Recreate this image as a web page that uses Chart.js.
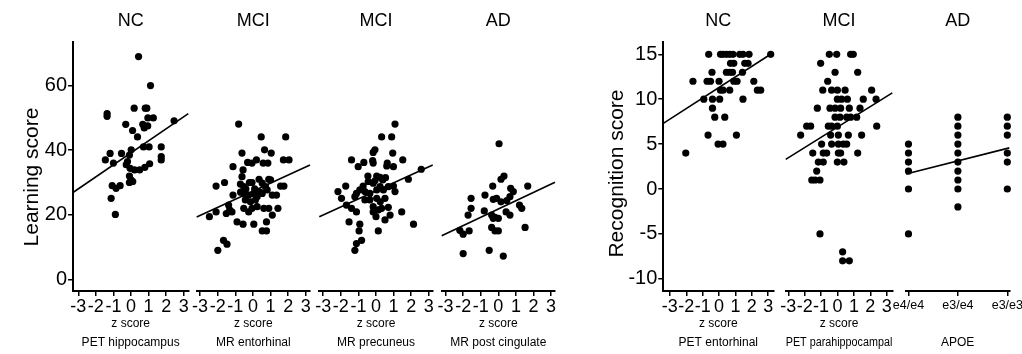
<!DOCTYPE html>
<html>
<head>
<meta charset="utf-8">
<script src="https://cdn.jsdelivr.net/npm/chart.js@4.4.1/dist/chart.umd.min.js"></script>
<style>
  html, body { margin: 0; padding: 0; background: #fff; }
  body { width: 1022px; height: 354px; position: relative; overflow: hidden; }
  canvas { position: absolute; top: 0; }
</style>
</head>
<body>
<canvas id="c1" width="200" height="354" style="left:0px"></canvas>
<canvas id="c2" width="135" height="354" style="left:185px"></canvas>
<canvas id="c3" width="135" height="354" style="left:308px"></canvas>
<canvas id="c4" width="137" height="354" style="left:430px"></canvas>
<canvas id="c5" width="215" height="354" style="left:570px"></canvas>
<canvas id="c6" width="128" height="354" style="left:775px"></canvas>
<canvas id="c7" width="140" height="354" style="left:890px"></canvas>
<script>
// ---- data (z score, score) ----
const groups = ['NC', 'MCI', 'MCI', 'AD', 'NC', 'MCI', 'AD'];
const regions = ['PET hippocampus', 'MR entorhinal', 'MR precuneus', 'MR post cingulate',
                 'PET entorhinal', 'PET parahippocampal', 'APOE'];
const zTicks = [-3, -2, -1, 0, 1, 2, 3];
const learnTicks = [0, 20, 40, 60];
const recogTicks = [-10, -5, 0, 5, 10, 15];
const apoeCats = ['e4/e4', 'e3/e4', 'e3/e3'];

const ncHippocampus = [[0.43,69],[1.11,60],[-1.36,50.5],[-1.36,51.3],[0.18,53],[0.81,53],[0.9,53],
  [-0.3,48],[0.96,50],[1.27,50],[0.67,48],[0.09,46.1],[0.75,46.9],[0.37,44.1],[2.45,49.1],[0.71,41],
  [1.03,41],[1.72,41],[0.01,40.1],[-1.19,39],[-0.54,39],[-1.46,37],[-1.0,36],[-0.09,38.5],[-0.2,36.5],
  [-0.27,35.5],[-0.05,34.4],[0.2,33.9],[0.49,33.9],[0.79,34.7],[1.06,35.8],[1.72,38],[1.72,37],
  [-0.09,32],[0,30.8],[-0.09,30],[0.1,30.3],[-1.07,29],[-0.85,28.2],[-0.62,29],[-1.13,25.1],
  [-0.89,20.1],[0.95,47.5]];
const mciEntorhinal = [[-0.81,48.1],[0.47,44.1],[1.86,44.1],[0.66,40.1],[1.04,39.1],[-0.62,39.1],
  [0.2,37],[-0.05,36],[-0.3,36.2],[0.58,36],[0.85,36],[1.73,37],[2.05,37],[-1.13,34.9],[-0.56,33.9],
  [-0.62,31.8],[0.9,31],[-1.61,30],[-2.09,28.9],[-0.71,29.5],[-0.52,28.7],[-0.05,30],[0.53,29.8],
  [0.71,28.7],[1,30.8],[1.57,28.9],[1.76,28.9],[-1.13,26.1],[-0.52,26.6],[-0.24,26.1],[0.05,26.6],
  [0.24,25.6],[0.53,26.6],[0.81,27.7],[1.1,26.1],[1.34,26.1],[-0.43,24.6],[-0.14,24],[0.14,24.6],
  [-1.38,23],[-1.32,21.5],[-1.51,20.4],[-1.19,20.9],[-2.09,20.9],[-2.47,19.4],[-0.52,22],[-0.24,20.9],
  [-0.05,22],[0.24,22.5],[0.62,22],[0.9,22],[1.42,22],[1.1,19.9],[-0.9,17.8],[-0.56,17.1],[0.05,17.1],
  [0.77,17.8],[0.53,15],[0.77,15],[-1.67,12.1],[-1.47,10.9],[-1.99,9],[-0.2,30],[0.35,31],[0.1,28],
  [-0.4,28],[0.4,27],[-0.7,27]];
const mciPrecuneus = [[1.08,48.1],[0.32,44.1],[0.89,44.1],[-0.06,40.1],[-0.16,39.3],[0.95,39.1],
  [-1.39,37],[-0.69,36.2],[-0.19,36.8],[-0.16,36],[0.64,36],[0.61,35.1],[0.99,34.9],[-1.01,34.9],
  [1.52,37],[2.57,34.1],[1.84,31],[0.04,32],[0.23,31.6],[0.38,30.8],[-1.72,28.9],[-2.16,27.2],
  [-1.96,25.1],[-0.73,28.9],[-0.44,30.3],[-0.16,29.8],[-1.11,26.6],[-0.92,27.7],[-1.2,25.6],
  [-0.63,27.2],[-0.35,26.6],[0.04,27.7],[0.23,28.7],[0.42,27.7],[0.7,28.7],[0.99,28.9],[1.08,27.2],
  [-0.63,24.6],[-0.35,24.6],[0.04,25.1],[0.51,25.1],[-1.68,23],[-1.39,22],[-1.11,20.9],[-0.16,22.5],
  [0.13,21.5],[-0.16,20.9],[0.32,22],[0.7,22.3],[1.46,20.9],[0,19.4],[0.8,19.9],[0.51,18.4],
  [-1.53,17.8],[-0.92,17.1],[2.13,17.1],[-0.96,15],[0.13,15],[-0.82,12.1],[-1.11,11.1],[-1.2,9],
  [0.24,24],[-0.06,30.5],[-0.46,32],[0.54,31.5]];
const adPostCingulate = [[0.04,42],[0.15,31],[0.32,32],[-0.32,28.9],[0.7,28.2],[0.85,27.2],[1.67,28.9],
  [-1.55,25.1],[-0.76,26.1],[-0.29,24.8],[-0.1,25.1],[0.15,24],[0.48,24.4],[0.66,25.6],[1.2,23],
  [1.33,22],[-1.55,22],[-0.8,21.2],[-1.72,19.9],[-0.38,19.9],[-0.19,19.2],[0,18.9],[-0.29,18.9],
  [0.44,20.9],[0.66,19.9],[-0.38,16.1],[-0.19,15],[0,15],[1.52,16.1],[-2.19,15.2],[-2,14],[-1.66,15],
  [-2,8],[-0.52,9],[0.28,7.2]];
const ncEntorhinal = [[-0.63,15],[0.09,15],[0.24,15],[0.45,15],[0.65,15],[0.85,15],[1.26,15],[1.46,15],
  [1.83,15],[3.15,15],[0.7,14],[0.9,14],[1.57,14],[1.77,14],[-0.43,13],[0.45,13],[0.65,13],[0.82,13],
  [1.43,13],[-1.59,12],[-0.73,12],[-0.52,12],[0,12],[0.9,12],[1.1,12],[2.12,12],[0.09,11],[0.24,11],
  [0.65,11],[2.34,11],[2.54,11],[-0.93,10],[-0.4,10],[0.04,10],[1.46,10],[-0.4,9],[-0.26,8],[0.35,8],
  [-0.67,6],[1.06,6],[-0.06,5],[0.24,5],[-2.03,4]];
const mciParahippocampal = [[-0.5,15],[-0.05,15],[0.8,15],[0.96,15],[-1.03,14],[-0.15,13],[1.23,13],
  [-0.6,12],[-0.9,11],[-0.36,11],[-0.01,11],[0.46,11],[2.08,11],[-0.01,10],[0.25,10],[0.6,10],[1.57,10],
  [2.35,10],[-1.23,9],[-0.46,9],[-0.15,9],[0.19,9],[0.72,9],[1.37,9],[-0.15,8],[0.15,8],[0.56,8],[0.8,8],
  [1.17,8],[-1.88,7],[-1.64,7],[-0.56,7],[-0.36,7],[-0.01,7],[2.39,7],[-2.25,6],[-0.42,6],[0.05,6],
  [0.66,6],[1.47,6],[-0.97,5],[-0.36,5],[0.05,5],[0.35,5],[0.56,5],[-1.51,4],[-0.87,4],[-0.66,4],
  [0.05,4],[0.19,4],[1.23,4],[-1.17,3],[-0.87,3],[-0.01,3],[0.39,3],[-1.27,2],[-1.57,1],[-1.37,1],
  [-1.07,1],[-1.07,-5],[0.31,-7],[0.31,-8],[0.72,-8]];
const adApoe = [[0,5],[0,4],[0,3],[0,2],[0,0],[0,-5],
  [1,8],[1,7],[1,6],[1,5],[1,4],[1,3],[1,2],[1,1],[1,0],[1,-2],
  [2,8],[2,7],[2,6],[2,4],[2,3],[2,0]];

// regression line end points per panel [[x0,y0],[x1,y1]]
const fitLines = [
  [[-3.3,26.9],[3.26,51.3]],
  [[-3.19,19.3],[3.24,35.4]],
  [[-3.22,19.4],[3.22,35.4]],
  [[-3.22,13.5],[3.22,30.1]],
  [[-3.4,7.3],[3.31,15.2]],
  [[-3.16,3.3],[3.34,10.7]],
  [[-0.05,1.67],[2.04,4.58]]
];

Chart.defaults.font.family = '"Liberation Sans", Arial, sans-serif';
Chart.defaults.color = '#000';

// y-axis title drawn a bit below the axis centre, like the original figure
const yTitlePlugin = {
  id: 'yTitle',
  afterDraw(chart, args, opts) {
    if (!opts.text) return;
    const ctx = chart.ctx;
    ctx.save();
    ctx.translate(opts.x, opts.y);
    ctx.rotate(-Math.PI / 2);
    ctx.font = '21px "Liberation Sans", Arial, sans-serif';
    ctx.fillStyle = '#000';
    ctx.textAlign = 'center';
    ctx.textBaseline = 'middle';
    ctx.fillText(opts.text, 0, 0);
    ctx.restore();
  }
};

function panel(id, i, pts, o) {
  const xTicks = o.cats ? o.cats.map((c, k) => k) : zTicks;
  const yAxis = o.yTitle ? {
    min: o.yMin, max: o.yMax,
    afterFit: s => { s.width = o.yW; },
    afterBuildTicks: s => { s.ticks = o.yTicks.map(v => ({ value: v })); },
    ticks: { font: { size: 20 }, padding: 1 },
    grid: { display: true, drawOnChartArea: false, drawTicks: true, tickLength: 5, color: '#000', lineWidth: 1.5 },
    border: { display: true, color: '#000', width: 2 }
  } : { display: false, min: o.yMin, max: o.yMax };

  return new Chart(document.getElementById(id), {
    type: 'scatter',
    data: {
      datasets: [
        { data: pts.map(p => ({ x: p[0], y: p[1] })), pointRadius: 3.6, backgroundColor: '#000',
          borderWidth: 0, clip: false },
        { type: 'line', data: fitLines[i].map(p => ({ x: p[0], y: p[1] })), borderColor: '#000',
          borderWidth: 1.6, pointRadius: 0, fill: false, clip: false }
      ]
    },
    plugins: [yTitlePlugin],
    options: {
      responsive: false, animation: false, events: [],
      layout: { padding: { left: o.padL, right: o.padR, top: 0, bottom: 0 } },
      plugins: {
        legend: { display: false }, tooltip: { enabled: false },
        yTitle: o.yTitle ? { text: o.yTitle, x: o.yTitleX, y: o.yTitleY } : {},
        title: { display: true, text: groups[i], fullSize: false, font: { size: 18, weight: 'normal' },
                 padding: { top: 10, bottom: 10.4 } },
        subtitle: { display: true, text: regions[i], position: 'bottom', fullSize: false,
                    font: { size: 12 }, padding: { top: 0, bottom: 4 } }
      },
      scales: {
        x: {
          type: 'linear', min: o.xMin, max: o.xMax,
          afterFit: s => { s.height = 44.6; },
          afterBuildTicks: s => { s.ticks = xTicks.map(v => ({ value: v })); },
          ticks: { font: { size: o.cats ? 12.5 : 18 }, padding: o.cats ? 2 : 0, maxRotation: 0, autoSkip: false,
                   callback: v => o.cats ? o.cats[v] : String(v) },
          grid: { display: true, drawOnChartArea: false, drawTicks: true, tickLength: 5, color: '#000', lineWidth: 1.5 },
          border: { display: true, color: '#000', width: 2 },
          title: { display: !o.cats, text: 'z score', font: { size: 12 }, padding: { top: 0, bottom: 4.5 } }
        },
        y: yAxis
      }
    }
  });
}

const learn = { yMin: -3.6, yMax: 73.5, yTicks: learnTicks };
const recog = { yMin: -11.36, yMax: 16.37, yTicks: recogTicks };

panel('c1', 0, ncHippocampus, { ...learn, xMin: -3.3, xMax: 3.26, padL: 0, padR: 11.7, yW: 73,
  yTitle: 'Learning score', yTitleX: 32, yTitleY: 177 });
panel('c2', 1, mciEntorhinal, { ...learn, xMin: -3.19, xMax: 3.24, padL: 11.7, padR: 10 });
panel('c3', 2, mciPrecuneus, { ...learn, xMin: -3.22, xMax: 3.22, padL: 11.3, padR: 10.3 });
panel('c4', 3, adPostCingulate, { ...learn, xMin: -3.22, xMax: 3.22, padL: 11.7, padR: 12 });
panel('c5', 4, ncEntorhinal, { ...recog, xMin: -3.4, xMax: 3.31, padL: 0, padR: 11.7, yW: 93.3,
  yTitle: 'Recognition score', yTitleX: 47, yTitleY: 173.5 });
panel('c6', 5, mciParahippocampal, { ...recog, xMin: -3.16, xMax: 3.34, padL: 10.7, padR: 10.7 });
panel('c7', 6, adApoe, { ...recog, xMin: -0.05, xMax: 2.04, padL: 16, padR: 20.7, cats: apoeCats });
</script>
</body>
</html>
